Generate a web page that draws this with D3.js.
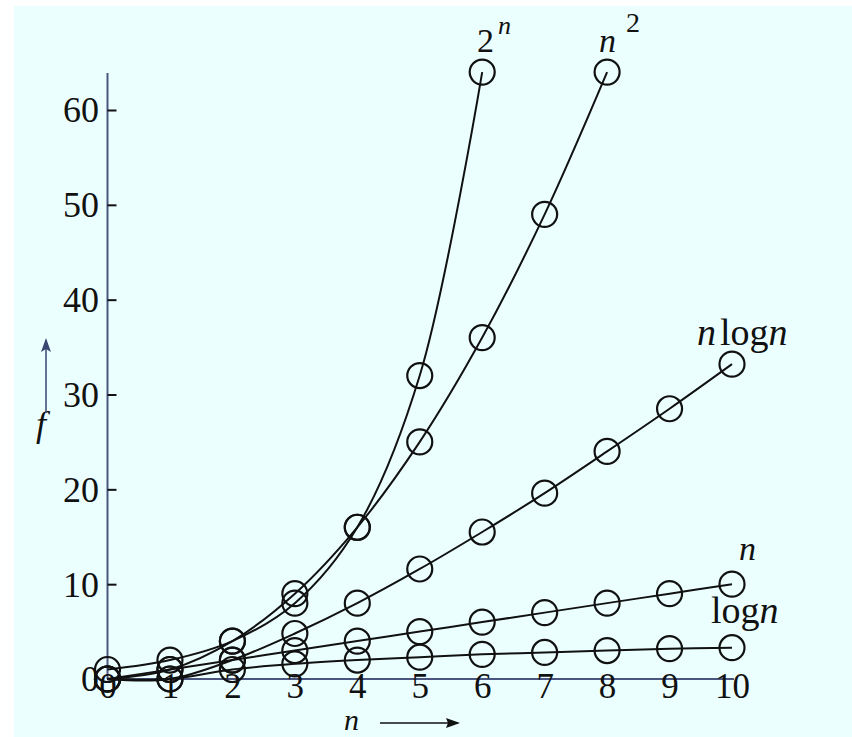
<!DOCTYPE html>
<html lang="en">
<head>
	<meta charset="utf-8">
	<title>Growth of functions</title>
	<script src="https://d3js.org/d3.v7.min.js"></script>
	<style>
	body { margin: 0; background: #ffffff; }
	svg, svg text { font-family: "Liberation Serif", "Times New Roman", Times, serif !important; }
	text { fill: #111; }
	.curve { fill: none; stroke: #111; stroke-width: 2px; }
	.dot { fill: none; stroke: #111; stroke-width: 2.2px; }
	.axisline { stroke: #4a5680; stroke-width: 2px; }
	</style>
</head>
<body>
	<script>
		// values
		var nTicks = [0, 1, 2, 3, 4, 5, 6, 7, 8, 9, 10];
		var fTicks = [0, 10, 20, 30, 40, 50, 60];

		var pow2 = [1, 2, 4, 8, 16, 32, 64];                                     // n = 0..6
		var square = [0, 1, 4, 9, 16, 25, 36, 49, 64];                           // n = 0..8
		var nlogn = [0, 0, 2, 4.8, 8, 11.6, 15.5, 19.6, 24, 28.5, 33.2];          // n = 0..10
		var linear = [0, 1, 2, 3, 4, 5, 6, 7, 8, 9, 10];                         // n = 0..10
		var logn = [0, 0, 1, 1.6, 2, 2.3, 2.6, 2.8, 3, 3.2, 3.3];                // n = 0..10

		var w = 852;
		var h = 737;

		var svg = d3.select("body")
					.append("svg")
					.attr("width", w)
					.attr("height", h)
					.attr("font-family", "Liberation Serif");

		// light cyan panel
		svg.append("rect")
			.attr("x", 14)
			.attr("y", 6)
			.attr("width", w - 14)
			.attr("height", h - 6)
			.attr("fill", "#ecffff");

		var x = d3.scaleLinear().domain([0, 10]).range([107.5, 732]);
		var y = d3.scaleLinear().domain([0, 60]).range([679, 110]);

		// axis lines
		svg.append("line").attr("class", "axisline")
			.attr("x1", x(0)).attr("x2", x(0))
			.attr("y1", y(0)).attr("y2", 73);
		svg.append("line").attr("class", "axisline")
			.attr("x1", x(0)).attr("x2", x(10) + 2)
			.attr("y1", y(0)).attr("y2", y(0));

		// y axis ticks pointing inward
		var yAxis = d3.axisLeft(y)
			.tickValues(fTicks)
			.tickSizeInner(-9)
			.tickSizeOuter(0)
			.tickPadding(8.5);

		var gy = svg.append("g")
			.attr("transform", "translate(" + x(0) + ",0)")
			.call(yAxis)
			.attr("font-family", "Liberation Serif")
			.attr("font-size", 36);
		gy.select(".domain").remove();
		gy.selectAll(".tick line").attr("stroke", "#111").attr("stroke-width", 2);
		gy.selectAll(".tick text")
			.attr("dy", "0.33em");

		// x axis labels sit over the line
		var xAxis = d3.axisBottom(x)
			.tickValues(nTicks)
			.tickSize(0)
			.tickPadding(0);

		var gx = svg.append("g")
			.attr("transform", "translate(0," + y(0) + ")")
			.call(xAxis)
			.attr("font-family", "Liberation Serif")
			.attr("font-size", 35);
		gx.select(".domain").remove();
		gx.selectAll(".tick text")
			.attr("y", 19)
			.attr("dy", 0);

		// series
		var series = [pow2, square, nlogn, linear, logn];

		var line = d3.line()
			.x(function(d, i) { return x(i); })
			.y(function(d) { return y(d); })
			.curve(d3.curveCatmullRom);

		series.forEach(function(s) {
			svg.append("path")
				.datum(s)
				.attr("class", "curve")
				.attr("d", line);

			svg.append("g")
				.selectAll("circle")
				.data(s)
				.enter().append("circle")
				.attr("class", "dot")
				.attr("cx", function(d, i) { return x(i); })
				.attr("cy", function(d) { return y(d); })
				.attr("r", 12.5);
		});

		// curve labels
		var t1 = svg.append("text").attr("x", 477).attr("y", 52).style("font-size", "34px");
		t1.append("tspan").text("2");
		t1.append("tspan").attr("dy", -18).attr("dx", 4).style("font-style", "italic").style("font-size", "26px").text("n");

		var t2 = svg.append("text").attr("x", 599).attr("y", 52).style("font-size", "34px");
		t2.append("tspan").style("font-style", "italic").text("n");
		t2.append("tspan").attr("dy", -20).attr("dx", 10).style("font-size", "28px").text("2");

		var t3 = svg.append("text").attr("x", 697).attr("y", 345).style("font-size", "38px");
		t3.append("tspan").style("font-style", "italic").text("n");
		t3.append("tspan").attr("dx", 4).text("log");
		t3.append("tspan").style("font-style", "italic").text("n");

		svg.append("text").attr("x", 739).attr("y", 560)
			.style("font-size", "34px").style("font-style", "italic").text("n");

		var t5 = svg.append("text").attr("x", 711).attr("y", 623).style("font-size", "38px");
		t5.append("tspan").text("log");
		t5.append("tspan").style("font-style", "italic").text("n");

		// axis names with arrows
		svg.append("text").attr("x", 344).attr("y", 730)
			.style("font-size", "30px").style("font-style", "italic").text("n");
		svg.append("line")
			.attr("x1", 380).attr("x2", 458).attr("y1", 723).attr("y2", 723)
			.attr("stroke", "#111").attr("stroke-width", 1.5);
		svg.append("path")
			.attr("d", "M460,723 L446,718 L448,723 L446,728 Z")
			.attr("fill", "#111");

		svg.append("text").attr("x", 36).attr("y", 436)
			.style("font-size", "36px").style("font-style", "italic").text("f");
		svg.append("line")
			.attr("x1", 46).attr("x2", 46).attr("y1", 413).attr("y2", 340)
			.attr("stroke", "#3a4670").attr("stroke-width", 1.5);
		svg.append("path")
			.attr("d", "M46,338 L41,352 L46,349 L51,352 Z")
			.attr("fill", "#3a4670");
	</script>
</body>
</html>
